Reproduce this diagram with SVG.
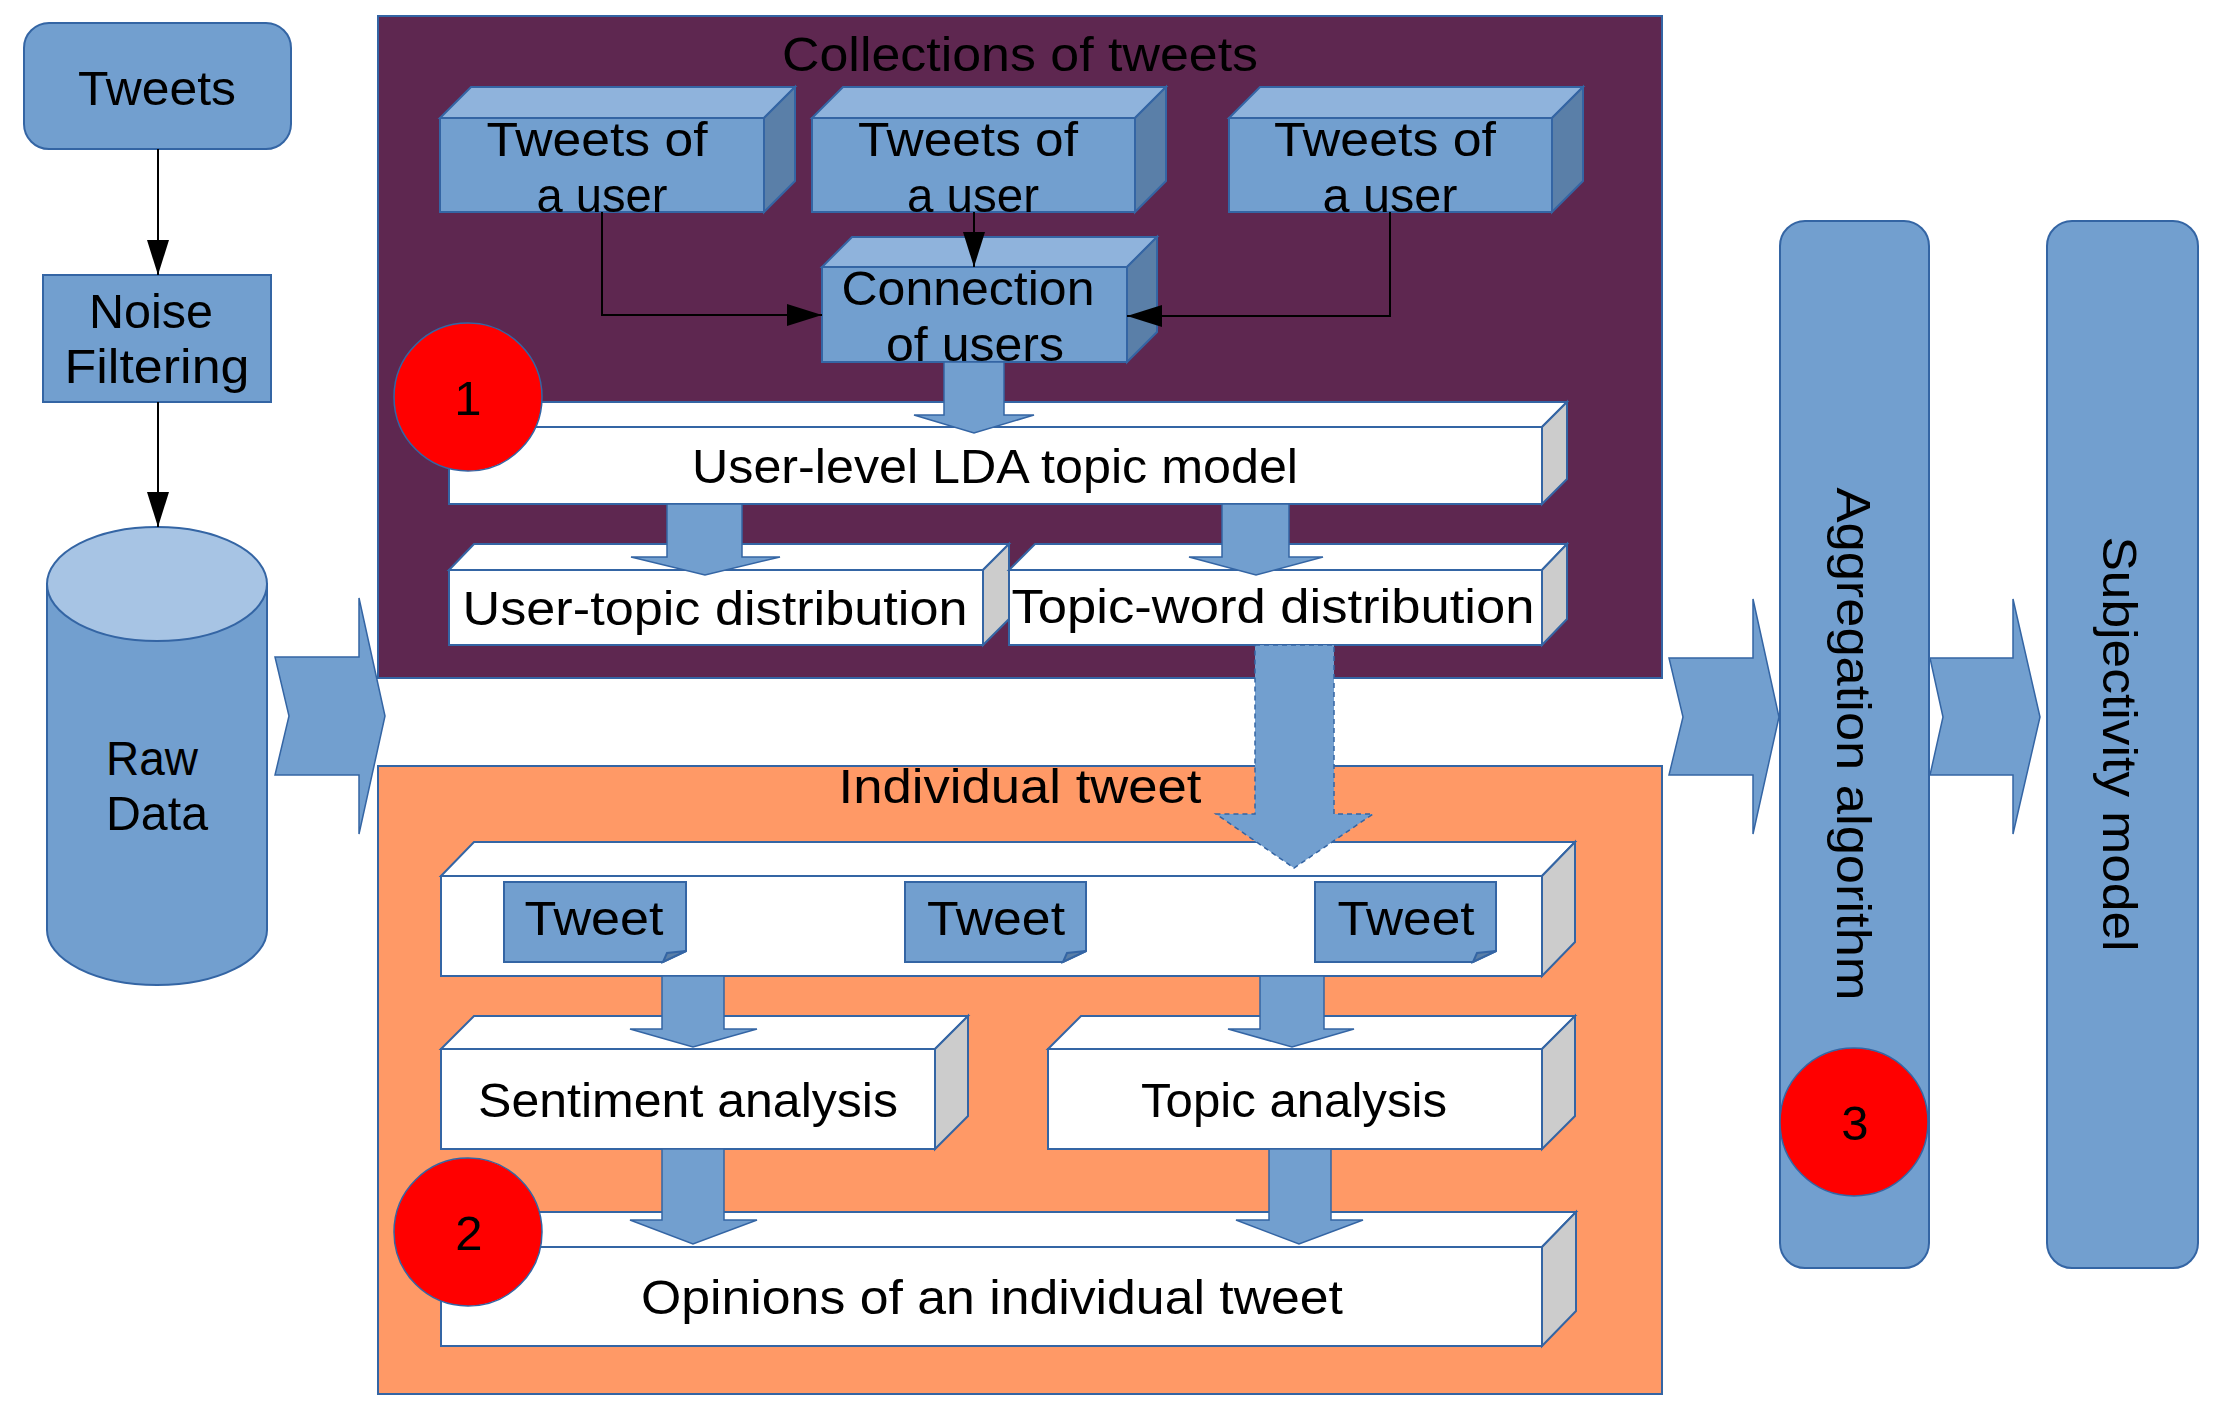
<svg xmlns="http://www.w3.org/2000/svg" width="2220" height="1417" viewBox="0 0 2220 1417">
<defs>
<style>
.t{font-family:"Liberation Sans",Arial,sans-serif;font-size:49px;fill:#000;text-anchor:middle}
.ts{text-anchor:start}
.blue{fill:#729fcf;stroke:#3465a4;stroke-width:2}
.btop{fill:#8fb3dc;stroke:#3465a4;stroke-width:2}
.bside{fill:#5a7fa8;stroke:#3465a4;stroke-width:2}
.white{fill:#ffffff;stroke:#3465a4;stroke-width:2}
.gside{fill:#cccccc;stroke:#3465a4;stroke-width:2}
.red{fill:#ff0000;stroke:#3465a4;stroke-width:1.5}
.blk{fill:#729fcf;stroke:#3465a4;stroke-width:1.5}
.dash{fill:#729fcf;stroke:#3465a4;stroke-width:1.5;stroke-dasharray:5 4}
.ln{fill:none;stroke:#000;stroke-width:2;marker-end:url(#ah)}
</style>
<marker id="ah" viewBox="0 0 35 22" markerWidth="35" markerHeight="22" refX="35" refY="11" orient="auto" markerUnits="userSpaceOnUse">
<path d="M0,0 L35,11 L0,22 Z" fill="#000"/>
</marker>
</defs>
<rect width="2220" height="1417" fill="#ffffff"/>

<g id="panel-collections">
<rect x="378" y="16" width="1284" height="662" fill="#5e2750" stroke="#3465a4" stroke-width="2"/>
<text class="t" x="1020" y="71" textLength="476" lengthAdjust="spacingAndGlyphs">Collections of tweets</text>
</g>
<g id="panel-individual">
<rect x="378" y="766" width="1284" height="628" fill="#ff9966" stroke="#3465a4" stroke-width="2"/>
<text class="t" x="1020" y="803" textLength="363" lengthAdjust="spacingAndGlyphs">Individual tweet</text>
</g>

<g id="tweets">
<rect class="blue" x="24" y="23" width="267" height="126" rx="25"/>
<text class="t" x="157" y="105" textLength="158" lengthAdjust="spacingAndGlyphs">Tweets</text>
</g>
<g id="noise-filtering">
<rect class="blue" x="43" y="275" width="228" height="127"/>
<text class="t" x="151" y="328" textLength="124" lengthAdjust="spacingAndGlyphs">Noise</text>
<text class="t" x="157" y="383" textLength="185" lengthAdjust="spacingAndGlyphs">Filtering</text>
</g>
<g id="raw-data">
<path class="blue" d="M47,584 L47,930 A110,55 0 0 0 267,930 L267,584 Z"/>
<ellipse cx="157" cy="584" rx="110" ry="57" fill="#a7c4e4" stroke="#3465a4" stroke-width="2"/>
<text class="t ts" x="106" y="775" textLength="92" lengthAdjust="spacingAndGlyphs">Raw</text>
<text class="t ts" x="106" y="830" textLength="102" lengthAdjust="spacingAndGlyphs">Data</text>
</g>

<g id="user1">
<polygon class="btop" points="440,118 471,87 795,87 764,118"/>
<polygon class="bside" points="764,118 795,87 795,181 764,212"/>
<rect class="blue" x="440" y="118" width="324" height="94"/>
<text class="t" x="597" y="156" textLength="221" lengthAdjust="spacingAndGlyphs">Tweets of</text>
<text class="t" x="602" y="212" textLength="131" lengthAdjust="spacingAndGlyphs">a user</text>
</g>
<g id="user2">
<polygon class="btop" points="812,118 843,87 1166,87 1135,118"/>
<polygon class="bside" points="1135,118 1166,87 1166,181 1135,212"/>
<rect class="blue" x="812" y="118" width="323" height="94"/>
<text class="t" x="968" y="156" textLength="220" lengthAdjust="spacingAndGlyphs">Tweets of</text>
<text class="t" x="973" y="212" textLength="132" lengthAdjust="spacingAndGlyphs">a user</text>
</g>
<g id="user3">
<polygon class="btop" points="1229,118 1260,87 1583,87 1552,118"/>
<polygon class="bside" points="1552,118 1583,87 1583,181 1552,212"/>
<rect class="blue" x="1229" y="118" width="323" height="94"/>
<text class="t" x="1385" y="156" textLength="222" lengthAdjust="spacingAndGlyphs">Tweets of</text>
<text class="t" x="1390" y="212" textLength="135" lengthAdjust="spacingAndGlyphs">a user</text>
</g>
<g id="connection">
<polygon class="btop" points="822,267 852,237 1157,237 1127,267"/>
<polygon class="bside" points="1127,267 1157,237 1157,332 1127,362"/>
<rect class="blue" x="822" y="267" width="305" height="95"/>
<text class="t" x="968" y="305" textLength="253" lengthAdjust="spacingAndGlyphs">Connection</text>
<text class="t" x="975" y="361" textLength="178" lengthAdjust="spacingAndGlyphs">of users</text>
</g>
<g id="lda">
<polygon class="white" points="449,427 474,402 1567,402 1542,427"/>
<polygon class="gside" points="1542,427 1567,402 1567,479 1542,504"/>
<rect class="white" x="449" y="427" width="1093" height="77"/>
<text class="t" x="995" y="483" textLength="606" lengthAdjust="spacingAndGlyphs">User-level LDA topic model</text>
</g>
<g id="user-topic">
<polygon class="white" points="449,570 474,544 1009,544 983,570"/>
<polygon class="gside" points="983,570 1009,544 1009,619 983,645"/>
<rect class="white" x="449" y="570" width="534" height="75"/>
<text class="t" x="715" y="625" textLength="505" lengthAdjust="spacingAndGlyphs">User-topic distribution</text>
</g>
<g id="topic-word">
<polygon class="white" points="1009,570 1035,544 1567,544 1542,570"/>
<polygon class="gside" points="1542,570 1567,544 1567,619 1542,645"/>
<rect class="white" x="1009" y="570" width="533" height="75"/>
<text class="t" x="1273" y="623" textLength="523" lengthAdjust="spacingAndGlyphs">Topic-word distribution</text>
</g>

<g id="tweet-container">
<polygon class="white" points="441,876 474,842 1575,842 1542,876"/>
<polygon class="gside" points="1542,876 1575,842 1575,942 1542,976"/>
<rect class="white" x="441" y="876" width="1101" height="100"/>
</g>
<g id="tweet1">
<polygon class="blue" points="504,882 686,882 686,951 663,962 504,962"/>
<polygon class="bside" points="663,962 667,953 686,951"/>
<text class="t" x="594" y="935" textLength="139" lengthAdjust="spacingAndGlyphs">Tweet</text>
</g>
<g id="tweet2">
<polygon class="blue" points="905,882 1086,882 1086,951 1063,962 905,962"/>
<polygon class="bside" points="1063,962 1067,953 1086,951"/>
<text class="t" x="996" y="935" textLength="138" lengthAdjust="spacingAndGlyphs">Tweet</text>
</g>
<g id="tweet3">
<polygon class="blue" points="1315,882 1496,882 1496,951 1473,962 1315,962"/>
<polygon class="bside" points="1473,962 1477,953 1496,951"/>
<text class="t" x="1406" y="935" textLength="137" lengthAdjust="spacingAndGlyphs">Tweet</text>
</g>
<g id="sentiment">
<polygon class="white" points="441,1049 474,1016 968,1016 935,1049"/>
<polygon class="gside" points="935,1049 968,1016 968,1116 935,1149"/>
<rect class="white" x="441" y="1049" width="494" height="100"/>
<text class="t" x="688" y="1117" textLength="420" lengthAdjust="spacingAndGlyphs">Sentiment analysis</text>
</g>
<g id="topic-analysis">
<polygon class="white" points="1048,1049 1081,1016 1575,1016 1542,1049"/>
<polygon class="gside" points="1542,1049 1575,1016 1575,1116 1542,1149"/>
<rect class="white" x="1048" y="1049" width="494" height="100"/>
<text class="t" x="1294" y="1117" textLength="306" lengthAdjust="spacingAndGlyphs">Topic analysis</text>
</g>
<g id="opinions">
<polygon class="white" points="441,1247 475,1212 1576,1212 1542,1247"/>
<polygon class="gside" points="1542,1247 1576,1212 1576,1311 1542,1346"/>
<rect class="white" x="441" y="1247" width="1101" height="99"/>
<text class="t" x="992" y="1314" textLength="702" lengthAdjust="spacingAndGlyphs">Opinions of an individual tweet</text>
</g>

<g id="aggregation">
<rect class="blue" x="1780" y="221" width="149" height="1047" rx="25"/>
<text class="t" transform="translate(1837,744) rotate(90)" x="0" y="0" textLength="513" lengthAdjust="spacingAndGlyphs">Aggregation algorithm</text>
</g>
<g id="subjectivity">
<rect class="blue" x="2047" y="221" width="151" height="1047" rx="25"/>
<text class="t" transform="translate(2103,744) rotate(90)" x="0" y="0" textLength="415" lengthAdjust="spacingAndGlyphs">Subjectivity model</text>
</g>

<g id="connectors">
<line class="ln" x1="158" y1="149" x2="158" y2="275"/>
<line class="ln" x1="158" y1="402" x2="158" y2="527"/>
<line class="ln" x1="974" y1="212" x2="974" y2="267"/>
<polyline class="ln" points="602,212 602,315 822,315"/>
<polyline class="ln" points="1390,212 1390,316 1127,316"/>
<polygon class="blk" points="275,657 359,657 359,598 385,716 359,834 359,775 275,775 289,716"/>
<polygon class="blk" points="1669,658 1753,658 1753,599 1779,717 1753,834 1753,775 1669,775 1683,717"/>
<polygon class="blk" points="1930,658 2013,658 2013,599 2040,717 2013,834 2013,775 1930,775 1943,717"/>
<polygon class="blk" points="944,362 1004,362 1004,415 1034,415 974,433 914,415 944,415"/>
<polygon class="blk" points="667,504 742,504 742,557 780,557 705,575 631,557 667,557"/>
<polygon class="blk" points="1222,504 1289,504 1289,557 1323,557 1256,575 1189,557 1222,557"/>
<polygon class="dash" points="1255,645 1334,645 1334,814 1373,814 1294,868 1216,814 1255,814"/>
<polygon class="blk" points="662,976 724,976 724,1029 757,1029 693,1047 630,1029 662,1029"/>
<polygon class="blk" points="1260,976 1324,976 1324,1029 1354,1029 1292,1047 1228,1029 1260,1029"/>
<polygon class="blk" points="662,1149 724,1149 724,1220 757,1220 693,1244 630,1220 662,1220"/>
<polygon class="blk" points="1269,1149 1331,1149 1331,1220 1363,1220 1299,1244 1236,1220 1269,1220"/>
</g>

<g id="badge1">
<circle class="red" cx="468" cy="397" r="74"/>
<text class="t" x="468" y="415" font-size="48">1</text>
</g>
<g id="badge2">
<circle class="red" cx="468" cy="1232" r="74"/>
<text class="t" x="469" y="1250" font-size="48">2</text>
</g>
<g id="badge3">
<circle class="red" cx="1854" cy="1122" r="74"/>
<text class="t" x="1855" y="1140" font-size="48">3</text>
</g>
</svg>
